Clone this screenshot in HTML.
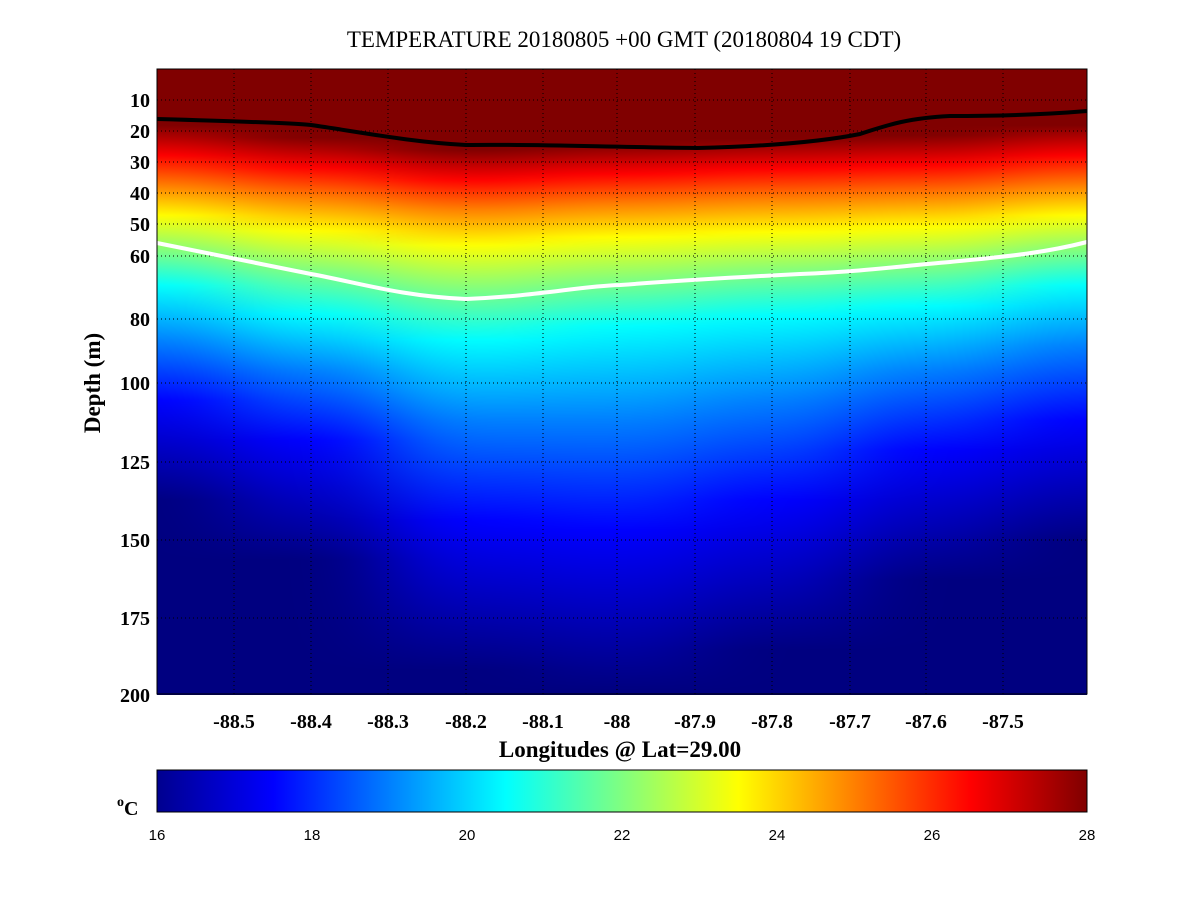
<!DOCTYPE html>
<html><head><meta charset="utf-8"><style>
body{margin:0;background:#fff;width:1201px;height:901px;overflow:hidden}
svg{display:block}
.t{font-family:"Liberation Serif",serif;font-weight:bold;font-size:20px;fill:#000}
</style></head><body>
<svg width="1201" height="901" viewBox="0 0 1201 901" xmlns="http://www.w3.org/2000/svg">
<defs>
<filter id="bl" x="-20%" y="0" width="140%" height="100%" color-interpolation-filters="sRGB"><feGaussianBlur stdDeviation="45 0"/></filter>
<clipPath id="cp"><rect x="157" y="69" width="930" height="626"/></clipPath>
<linearGradient id="g0" gradientUnits="userSpaceOnUse" x1="0" y1="69" x2="0" y2="694">
<stop offset="0.090" stop-color="#800000"/><stop offset="0.138" stop-color="#ff0000"/><stop offset="0.186" stop-color="#ff8000"/><stop offset="0.234" stop-color="#ffff00"/><stop offset="0.290" stop-color="#80ff80"/><stop offset="0.346" stop-color="#00ffff"/><stop offset="0.434" stop-color="#0080ff"/><stop offset="0.530" stop-color="#0000ff"/><stop offset="0.690" stop-color="#000080"/></linearGradient>
<linearGradient id="g1" gradientUnits="userSpaceOnUse" x1="0" y1="69" x2="0" y2="694">
<stop offset="0.110" stop-color="#800000"/><stop offset="0.158" stop-color="#ff0000"/><stop offset="0.206" stop-color="#ff8000"/><stop offset="0.259" stop-color="#ffff00"/><stop offset="0.323" stop-color="#80ff80"/><stop offset="0.392" stop-color="#00ffff"/><stop offset="0.482" stop-color="#0080ff"/><stop offset="0.594" stop-color="#0000ff"/><stop offset="0.786" stop-color="#000080"/></linearGradient>
<linearGradient id="g2" gradientUnits="userSpaceOnUse" x1="0" y1="69" x2="0" y2="694">
<stop offset="0.130" stop-color="#800000"/><stop offset="0.178" stop-color="#ff0000"/><stop offset="0.226" stop-color="#ff8000"/><stop offset="0.282" stop-color="#ffff00"/><stop offset="0.354" stop-color="#80ff80"/><stop offset="0.434" stop-color="#00ffff"/><stop offset="0.562" stop-color="#0080ff"/><stop offset="0.722" stop-color="#0000ff"/><stop offset="0.962" stop-color="#000080"/></linearGradient>
<linearGradient id="g3" gradientUnits="userSpaceOnUse" x1="0" y1="69" x2="0" y2="694">
<stop offset="0.120" stop-color="#800000"/><stop offset="0.168" stop-color="#ff0000"/><stop offset="0.216" stop-color="#ff8000"/><stop offset="0.269" stop-color="#ffff00"/><stop offset="0.338" stop-color="#80ff80"/><stop offset="0.411" stop-color="#00ffff"/><stop offset="0.562" stop-color="#0080ff"/><stop offset="0.738" stop-color="#0000ff"/><stop offset="0.994" stop-color="#000080"/></linearGradient>
<linearGradient id="g4" gradientUnits="userSpaceOnUse" x1="0" y1="69" x2="0" y2="694">
<stop offset="0.112" stop-color="#800000"/><stop offset="0.160" stop-color="#ff0000"/><stop offset="0.208" stop-color="#ff8000"/><stop offset="0.261" stop-color="#ffff00"/><stop offset="0.325" stop-color="#80ff80"/><stop offset="0.394" stop-color="#00ffff"/><stop offset="0.530" stop-color="#0080ff"/><stop offset="0.690" stop-color="#0000ff"/><stop offset="0.930" stop-color="#000080"/></linearGradient>
<linearGradient id="g5" gradientUnits="userSpaceOnUse" x1="0" y1="69" x2="0" y2="694">
<stop offset="0.106" stop-color="#800000"/><stop offset="0.154" stop-color="#ff0000"/><stop offset="0.202" stop-color="#ff8000"/><stop offset="0.253" stop-color="#ffff00"/><stop offset="0.315" stop-color="#80ff80"/><stop offset="0.379" stop-color="#00ffff"/><stop offset="0.482" stop-color="#0080ff"/><stop offset="0.610" stop-color="#0000ff"/><stop offset="0.818" stop-color="#000080"/></linearGradient>
<linearGradient id="g6" gradientUnits="userSpaceOnUse" x1="0" y1="69" x2="0" y2="694">
<stop offset="0.090" stop-color="#800000"/><stop offset="0.138" stop-color="#ff0000"/><stop offset="0.186" stop-color="#ff8000"/><stop offset="0.234" stop-color="#ffff00"/><stop offset="0.290" stop-color="#80ff80"/><stop offset="0.346" stop-color="#00ffff"/><stop offset="0.442" stop-color="#0080ff"/><stop offset="0.562" stop-color="#0000ff"/><stop offset="0.754" stop-color="#000080"/></linearGradient>
<linearGradient id="jet" x1="0" y1="0" x2="1" y2="0">
<stop offset="0" stop-color="#00008f"/><stop offset="0.125" stop-color="#0000ff"/><stop offset="0.375" stop-color="#00ffff"/><stop offset="0.5" stop-color="#80ff80"/><stop offset="0.625" stop-color="#ffff00"/><stop offset="0.875" stop-color="#ff0000"/><stop offset="1" stop-color="#800000"/></linearGradient>
</defs>

<text x="624" y="47" text-anchor="middle" font-family="Liberation Serif, serif" font-size="23">TEMPERATURE 20180805 +00 GMT (20180804 19 CDT)</text>

<g clip-path="url(#cp)">
<g filter="url(#bl)">
<rect x="0" y="69" width="234" height="626" fill="url(#g0)"/>
<rect x="234" y="69" width="155" height="626" fill="url(#g1)"/>
<rect x="389" y="69" width="155" height="626" fill="url(#g2)"/>
<rect x="544" y="69" width="154" height="626" fill="url(#g3)"/>
<rect x="698" y="69" width="154" height="626" fill="url(#g4)"/>
<rect x="852" y="69" width="154" height="626" fill="url(#g5)"/>
<rect x="1006" y="69" width="200" height="626" fill="url(#g6)"/>
</g>
</g>

<g stroke="#000" stroke-width="1" stroke-dasharray="1,3" fill="none">
<path d="M234 69V694M311 69V694M388 69V694M466 69V694M543 69V694M617 69V694M695 69V694M772 69V694M850 69V694M926 69V694M1003 69V694"/>
<path d="M157 100H1087M157 131H1087M157 162H1087M157 193H1087M157 224H1087M157 256H1087M157 319H1087M157 383H1087M157 462H1087M157 540H1087M157 618H1087"/>
</g>

<path d="M157 119 C230 121 290 123 311 125 C360 132 410 142 466 145 C540 144 600 147 697 148 C780 146 830 140 860 134 C890 124 910 118 950 116 C1000 116 1040 115 1087 111" fill="none" stroke="#000" stroke-width="4"/>
<path d="M157 243 C230 258 280 268 311 274 C360 283 400 296 466 299 C540 296 580 286 620 285 C700 279 760 276 800 274 C870 271 900 266 950 262 C1000 257 1040 254 1087 242" fill="none" stroke="#fff" stroke-width="4"/>

<rect x="157" y="69" width="930" height="625" fill="none" stroke="#000" stroke-width="1"/>

<g class="t" text-anchor="end">
<text x="150" y="107">10</text><text x="150" y="138">20</text><text x="150" y="169">30</text><text x="150" y="200">40</text><text x="150" y="231">50</text><text x="150" y="263">60</text><text x="150" y="326">80</text><text x="150" y="390">100</text><text x="150" y="469">125</text><text x="150" y="547">150</text><text x="150" y="625">175</text><text x="150" y="702">200</text>
</g>
<g class="t" text-anchor="middle">
<text x="234" y="728">-88.5</text><text x="311" y="728">-88.4</text><text x="388" y="728">-88.3</text><text x="466" y="728">-88.2</text><text x="543" y="728">-88.1</text><text x="617" y="728">-88</text><text x="695" y="728">-87.9</text><text x="772" y="728">-87.8</text><text x="850" y="728">-87.7</text><text x="926" y="728">-87.6</text><text x="1003" y="728">-87.5</text>
<text x="620" y="757" font-size="23">Longitudes @ Lat=29.00</text>
<text transform="translate(100,383) rotate(-90)" font-size="23">Depth (m)</text>
</g>

<rect x="157" y="770" width="930" height="42" fill="url(#jet)" stroke="#000" stroke-width="1"/>
<g font-family="Liberation Sans, sans-serif" font-size="15" text-anchor="middle">
<text x="157" y="840">16</text><text x="312" y="840">18</text><text x="467" y="840">20</text><text x="622" y="840">22</text><text x="777" y="840">24</text><text x="932" y="840">26</text><text x="1087" y="840">28</text>
</g>
<text x="117" y="815" class="t" font-size="22"><tspan font-size="14" dy="-9">o</tspan><tspan dy="9">C</tspan></text>
</svg>
</body></html>
